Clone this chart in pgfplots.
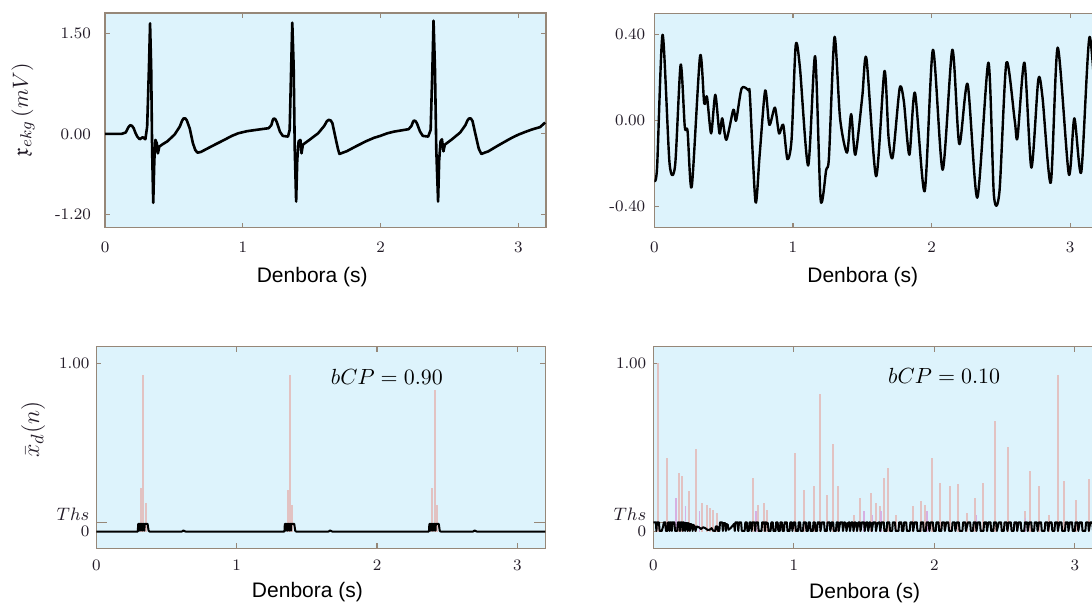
\documentclass[border=0pt]{standalone}
\usepackage{fontspec}
\usepackage{amssymb}
\usepackage{pgfplots}
\pgfplotsset{compat=1.18}
\newfontfamily\arialfont{Liberation Sans}

\definecolor{bgcol}{RGB}{221,243,252}
\definecolor{framecol}{RGB}{150,135,120}
\definecolor{tickcol}{RGB}{35,28,40}
\definecolor{pinkc}{RGB}{226,194,194}
\definecolor{lavc}{RGB}{214,176,226}

\pgfplotsset{
  ecg/.style={
    scale only axis,
    anchor=south west,
    axis background/.style={fill=bgcol},
    axis line style={draw=framecol, line width=0.8pt},
    tick style={draw=framecol, line width=0.6pt},
    major tick length=2.5pt,
    tick align=inside,
    xmin=0, xmax=3.2,
    xtick={0,1,2,3}, xticklabels={0,1,2,3},
    ticklabel style={font=\fontsize{8}{9}\selectfont, text=tickcol},
    xlabel={Denbora (s)},
    xlabel style={font=\arialfont\fontsize{10.5}{12}\selectfont, anchor=center},
    ylabel style={font=\fontsize{11}{12}\selectfont, anchor=center, text=tickcol},
    every axis plot/.append style={line join=round},
    clip=true,
  },
  thsaxis/.style={
    ymin=-0.1, ymax=1.1,
    ytick={0,1}, yticklabels={0,1.00},
    extra y ticks={0.053},
    extra y tick labels={$Ths$},
    extra y tick style={major tick length=5.5pt,
      yticklabel style={yshift=4pt, font=\fontsize{9.5}{10}\selectfont}},
  },
}

\begin{document}
\begin{tikzpicture}
\path[use as bounding box] (0pt,0pt) rectangle (546pt,302.5pt);

% top left: ECG
\begin{axis}[ecg, at={(52.5pt,188.65pt)}, width=220.5pt, height=107.2pt,
    ymin=-1.4, ymax=1.8,
    ytick={-1.2,0,1.5}, yticklabels={-1.20,0.00,1.50},
    yticklabel style={xshift=-3.5pt},
    xticklabel style={yshift=-3.5pt},
    xlabel style={at={(axis description cs:0.47,0)}, yshift=-24.6pt},
    ylabel={$\mathfrak{x}_{ekg}\,(mV)$},
    ylabel style={at={(axis description cs:-0.186,0.55)}},
  ]
  \addplot[black, line width=1.3pt] coordinates {
    (0,0) (0.12,0) (0.15,0.02) (0.17,0.1) (0.183,0.13) (0.196,0.12) (0.208,0.085) (0.222,0.01) (0.234,-0.04)
    (0.252,-0.08) (0.273,-0.05) (0.293,-0.08) (0.306,0.11) (0.319,1.0)
    (0.327,1.65) (0.335,1.0) (0.342,-0.24) (0.35,-1.03) (0.358,-0.39)
    (0.366,-0.09) (0.376,-0.14) (0.384,-0.29) (0.394,-0.19) (0.414,-0.16)
    (0.453,-0.11) (0.505,-0.01) (0.543,0.11) (0.558,0.19) (0.569,0.23) (0.584,0.23) (0.594,0.2)
    (0.615,0.08) (0.638,-0.14) (0.655,-0.24) (0.671,-0.28) (0.695,-0.27) (0.723,-0.24) (0.788,-0.17)
    (0.865,-0.09) (0.92,-0.03) (0.968,0.01) (1.03,0.04) (1.097,0.06) (1.187,0.085) (1.207,0.13)
    (1.218,0.21) (1.225,0.23) (1.236,0.22) (1.246,0.18) (1.269,0.035) (1.29,-0.03) (1.328,-0.04)
    (1.34,0.06) (1.351,1.0) (1.359,1.66) (1.369,1.0) (1.377,-0.24)
    (1.387,-1.01) (1.395,-0.39) (1.405,-0.11) (1.418,-0.09) (1.426,-0.29)
    (1.436,-0.16) (1.483,-0.09) (1.547,0.01) (1.591,0.12) (1.61,0.19) (1.624,0.21)
    (1.638,0.2) (1.65,0.16) (1.676,-0.09) (1.69,-0.22) (1.701,-0.30) (1.725,-0.28) (1.753,-0.26) (1.817,-0.19)
    (1.894,-0.11) (1.95,-0.06) (1.997,-0.03) (2.05,0.01) (2.1,0.035) (2.203,0.07) (2.224,0.12)
    (2.235,0.18) (2.242,0.2) (2.253,0.19) (2.263,0.16) (2.286,0.035) (2.306,-0.03) (2.345,-0.04)
    (2.363,0.06) (2.376,1.0) (2.384,1.69) (2.394,1.0) (2.404,-0.24)
    (2.417,-1.01) (2.425,-0.39) (2.435,-0.11) (2.445,-0.08) (2.456,-0.26)
    (2.466,-0.16) (2.512,-0.09) (2.577,0.02) (2.615,0.13) (2.63,0.2) (2.641,0.23)
    (2.655,0.23) (2.667,0.19) (2.692,-0.04) (2.712,-0.22) (2.731,-0.30) (2.755,-0.28) (2.782,-0.26) (2.847,-0.18)
    (2.924,-0.09) (2.96,-0.05) (3.001,-0.01) (3.05,0.03) (3.104,0.07) (3.156,0.1) (3.194,0.17)
  };
\end{axis}

% top right: noise
\begin{axis}[ecg, at={(327.15pt,188.65pt)}, width=221.8pt, height=107.2pt,
    ymin=-0.5, ymax=0.5,
    ytick={-0.4,0,0.4}, yticklabels={-0.40,0.00,0.40},
    yticklabel style={xshift=-1pt},
    xticklabel style={yshift=-3.5pt},
    xlabel style={at={(axis description cs:0.47,0)}, yshift=-24.6pt},
  ]
  \addplot[black, line width=1.2pt, smooth, tension=0.45] coordinates {
    (0,-0.28) (0.02,-0.22) (0.06,0.40) (0.11,-0.20) (0.15,-0.21)
    (0.19,0.26) (0.22,-0.03) (0.24,-0.05) (0.27,-0.31) (0.33,0.30)
    (0.36,0.08) (0.38,0.11) (0.41,-0.06) (0.44,0.12) (0.47,-0.06)
    (0.49,0.01) (0.52,-0.09) (0.57,0.05) (0.59,0.0) (0.63,0.15)
    (0.68,0.14) (0.69,0.11) (0.73,-0.38) (0.76,-0.16) (0.80,0.14)
    (0.83,-0.02) (0.87,0.06) (0.90,-0.06) (0.93,-0.02) (0.96,-0.18)
    (0.99,-0.09) (1.02,0.35) (1.05,0.25) (1.11,-0.21) (1.16,0.30)
    (1.20,-0.37) (1.24,-0.23) (1.26,-0.17) (1.30,0.39) (1.34,0.01)
    (1.39,-0.15) (1.42,0.03) (1.45,-0.16) (1.50,0.11) (1.53,0.29)
    (1.60,-0.26) (1.66,0.23) (1.69,-0.08) (1.72,-0.17) (1.77,0.15)
    (1.80,0.09) (1.84,-0.16) (1.88,0.13) (1.95,-0.33) (2.01,0.33)
    (2.08,-0.23) (2.15,0.33) (2.20,-0.11) (2.26,0.17) (2.33,-0.36)
    (2.41,0.27) (2.45,-0.35) (2.49,-0.33) (2.54,0.27) (2.60,0.0)
    (2.62,-0.08) (2.67,0.27) (2.72,-0.22) (2.77,0.19) (2.80,0.11)
    (2.86,-0.29) (2.91,0.34) (2.99,-0.25) (3.03,0.01) (3.08,-0.24)
    (3.14,0.39) (3.2,-0.1)
  };
\end{axis}

% bottom left: detector bCP = 0.90
\begin{axis}[ecg, thsaxis, at={(48.2pt,28.35pt)}, width=224.5pt, height=100.8pt,
    xticklabel style={yshift=-2pt},
    xlabel style={at={(axis description cs:0.47,0)}, yshift=-21.7pt},
    ylabel={$\bar{x}_d(n)$},
    ylabel style={at={(axis description cs:-0.141,0.59)}, font=\fontsize{12.5}{13}\selectfont},
  ]
  \addplot[ycomb, color=pinkc, line width=1pt] coordinates {
    (0.318,0.26) (0.335,0.93) (0.352,0.17)
    (1.363,0.25) (1.38,0.93) (1.397,0.16)
    (2.393,0.26) (2.41,0.84) (2.427,0.16)
  };
  \addplot[black, line width=1pt] coordinates {
    (0,0) (0.295,0) (0.298,0.045) (0.305,0.045) (0.307,0.005) (0.309,0.045)
    (0.316,0.045) (0.318,0.005) (0.32,0.045) (0.328,0.045) (0.33,0.005)
    (0.332,0.045) (0.34,0.045) (0.342,0.005) (0.344,0.045) (0.365,0.045)
    (0.372,0.005) (0.378,0) (0.61,0) (0.62,0.006) (0.635,0)
    (1.34,0) (1.343,0.045) (1.35,0.045) (1.352,0.005) (1.354,0.045)
    (1.361,0.045) (1.363,0.005) (1.365,0.045) (1.373,0.045) (1.375,0.005)
    (1.377,0.045) (1.385,0.045) (1.387,0.005) (1.389,0.045) (1.41,0.045)
    (1.417,0.005) (1.423,0) (1.655,0) (1.665,0.006) (1.68,0)
    (2.37,0) (2.373,0.045) (2.38,0.045) (2.382,0.005) (2.384,0.045)
    (2.391,0.045) (2.393,0.005) (2.395,0.045) (2.403,0.045) (2.405,0.005)
    (2.407,0.045) (2.415,0.045) (2.417,0.005) (2.419,0.045) (2.44,0.045)
    (2.447,0.005) (2.453,0) (2.685,0) (2.695,0.006) (2.71,0) (3.2,0)
  };
  \node[font=\fontsize{10.5}{12}\selectfont, text=black] at (axis cs:2.07,0.92) {$bCP = 0.90$};
\end{axis}

% bottom right: detector bCP = 0.10
\begin{axis}[ecg, thsaxis, at={(326.65pt,28.35pt)}, width=224.8pt, height=100.8pt,
    xticklabel style={yshift=-2pt},
    xlabel style={at={(axis description cs:0.47,0)}, yshift=-22.5pt},
  ]
  \addplot[ycomb, color=pinkc, line width=1pt] coordinates {
    (0.036,1.0) (0.097,0.44) (0.181,0.35) (0.205,0.33) (0.254,0.24)
    (0.307,0.49) (0.35,0.17) (0.38,0.16) (0.404,0.14) (0.428,0.13)
    (0.452,0.11) (0.713,0.32) (0.742,0.16) (0.786,0.17) (0.81,0.13)
    (1.008,0.47) (1.071,0.25) (1.143,0.27) (1.184,0.82) (1.233,0.22)
    (1.281,0.52) (1.317,0.27) (1.426,0.10) (1.474,0.20) (1.547,0.23)
    (1.588,0.17) (1.612,0.15) (1.644,0.32) (1.673,0.38) (1.728,0.10)
    (1.849,0.15) (1.902,0.18) (1.934,0.16) (1.987,0.44) (2.038,0.29)
    (2.11,0.27) (2.171,0.28) (2.236,0.11) (2.289,0.20) (2.345,0.29)
    (2.434,0.66) (2.521,0.50) (2.647,0.12) (2.683,0.36) (2.744,0.27)
    (2.816,0.10) (2.879,0.93) (2.925,0.30) (3.009,0.19) (3.101,0.31)
  };
  \addplot[ycomb, color=lavc, line width=0.8pt] coordinates {
    (0.16,0.2) (0.23,0.15) (0.33,0.12) (0.73,0.12) (1.5,0.12)
    (1.56,0.1) (1.62,0.12) (1.95,0.12) (2.3,0.1) (2.65,0.08)
  };
  \addplot[black, line width=1pt] coordinates {
    (0,0.055) (0.018,0.055) (0.022,0.003) (0.026,0.055) (0.04,0.055) (0.045,0.003)
    (0.06,0.003) (0.07,0.03) (0.075,0.055) (0.085,0.055) (0.09,0.003) (0.1,0.003)
    (0.105,0.055) (0.112,0.055) (0.116,0.003) (0.12,0.055) (0.128,0.055) (0.132,0.003)
    (0.136,0.055) (0.15,0.055) (0.155,0.003) (0.17,0.003) (0.175,0.055) (0.185,0.055)
    (0.19,0.003) (0.195,0.055) (0.205,0.055) (0.21,0.003) (0.214,0.055) (0.222,0.05)
    (0.226,0.003) (0.23,0.05) (0.24,0.05) (0.244,0.003) (0.248,0.05) (0.256,0.045)
    (0.26,0.003) (0.265,0.045) (0.275,0.04) (0.28,0.003) (0.285,0.04) (0.295,0.03)
    (0.3,0.003) (0.31,0.03) (0.325,0.025) (0.34,0.015) (0.355,0.025) (0.37,0.02)
    (0.385,0.01) (0.40,0.01) (0.415,0.02) (0.425,0.005) (0.44,0.003) (0.445,0.03)
    (0.455,0.03) (0.46,0.003) (0.47,0.003) (0.475,0.055) (0.49,0.055) (0.495,0.003)
    (0.5,0.05) (0.512,0.05) (0.516,0.003) (0.52,0.045) (0.53,0.04) (0.535,0.01)
    (0.55,0.02) (0.565,0.035) (0.575,0.045) (0.58,0.003) (0.585,0.055) (0.6,0.055)
    (0.605,0.003) (0.61,0.055) (0.625,0.055) (0.63,0.003) (0.65,0.003) (0.655,0.055)
    (0.665,0.055) (0.67,0.003) (0.68,0.003) (0.685,0.055) (0.695,0.055) (0.7,0.003)
    (0.705,0.055) (0.72,0.055) (0.725,0.003) (0.73,0.055) (0.745,0.055) (0.75,0.003)
    (0.77,0.003) (0.775,0.055) (0.79,0.055) (0.795,0.003) (0.8,0.055) (0.815,0.05)
    (0.82,0.003) (0.835,0.003) (0.84,0.055) (0.85,0.055) (0.855,0.003) (0.87,0.003)
    (0.875,0.055) (0.885,0.055) (0.89,0.003) (0.9,0.003) (0.905,0.055) (0.915,0.055)
    (0.92,0.003) (0.93,0.003) (0.935,0.055) (0.95,0.055) (0.955,0.003) (0.97,0.003)
    (0.975,0.055) (0.985,0.055) (0.99,0.003) (1.0,0.055) (1.01,0.055) (1.015,0.003)
    (1.03,0.003) (1.035,0.055) (1.045,0.055) (1.05,0.003) (1.065,0.003) (1.07,0.055)
    (1.085,0.055) (1.09,0.003) (1.1,0.003) (1.105,0.055) (1.115,0.055) (1.12,0.003)
    (1.135,0.003) (1.14,0.055) (1.15,0.055) (1.155,0.003) (1.165,0.003) (1.17,0.055)
    (1.185,0.055) (1.19,0.003) (1.2,0.055) (1.215,0.055) (1.22,0.003) (1.235,0.003)
    (1.24,0.055) (1.255,0.055) (1.26,0.003) (1.27,0.055) (1.28,0.055) (1.285,0.003)
    (1.3,0.003) (1.305,0.055) (1.315,0.055) (1.32,0.003) (1.33,0.055) (1.345,0.055)
    (1.35,0.003) (1.36,0.055) (1.37,0.05) (1.375,0.003) (1.385,0.05) (1.395,0.055)
    (1.4,0.003) (1.41,0.055) (1.42,0.055) (1.425,0.003) (1.435,0.055) (1.445,0.05)
    (1.45,0.003) (1.46,0.055) (1.47,0.055) (1.475,0.003) (1.485,0.055) (1.5,0.055)
    (1.505,0.003) (1.515,0.055) (1.525,0.055) (1.53,0.003) (1.54,0.055) (1.55,0.05)
    (1.555,0.003) (1.565,0.055) (1.58,0.055) (1.585,0.003) (1.595,0.05) (1.61,0.055)
    (1.615,0.003) (1.625,0.055) (1.64,0.055) (1.645,0.003) (1.66,0.003) (1.665,0.055)
    (1.68,0.055) (1.685,0.003) (1.7,0.003) (1.705,0.055) (1.72,0.055) (1.725,0.003)
    (1.745,0.003) (1.75,0.055) (1.765,0.055) (1.77,0.003) (1.78,0.003) (1.785,0.055)
    (1.8,0.055) (1.805,0.003) (1.825,0.003) (1.83,0.055) (1.845,0.055) (1.85,0.003)
    (1.86,0.055) (1.875,0.055) (1.88,0.003) (1.9,0.003) (1.905,0.055) (1.92,0.055)
    (1.925,0.003) (1.94,0.003) (1.945,0.055) (1.96,0.055) (1.965,0.003) (1.975,0.055)
    (1.99,0.055) (1.995,0.003) (2.01,0.003) (2.015,0.055) (2.03,0.055) (2.035,0.003)
    (2.05,0.003) (2.055,0.055) (2.07,0.055) (2.075,0.003) (2.085,0.055) (2.1,0.055)
    (2.105,0.003) (2.125,0.003) (2.13,0.055) (2.145,0.055) (2.15,0.003) (2.16,0.055)
    (2.175,0.055) (2.18,0.003) (2.2,0.003) (2.205,0.055) (2.22,0.055) (2.225,0.003)
    (2.24,0.055) (2.255,0.055) (2.26,0.003) (2.275,0.003) (2.28,0.055) (2.295,0.055)
    (2.3,0.003) (2.31,0.055) (2.325,0.055) (2.33,0.003) (2.35,0.003) (2.355,0.055)
    (2.37,0.055) (2.375,0.003) (2.385,0.055) (2.4,0.055) (2.405,0.003) (2.42,0.003)
    (2.425,0.055) (2.44,0.055) (2.445,0.003) (2.46,0.055) (2.475,0.055) (2.48,0.003)
    (2.495,0.003) (2.5,0.055) (2.515,0.055) (2.52,0.003) (2.53,0.055) (2.545,0.055)
    (2.55,0.003) (2.565,0.003) (2.57,0.055) (2.585,0.055) (2.59,0.003) (2.6,0.055)
    (2.615,0.055) (2.62,0.003) (2.64,0.003) (2.645,0.055) (2.66,0.055) (2.665,0.003)
    (2.675,0.055) (2.69,0.055) (2.695,0.003) (2.71,0.003) (2.715,0.055) (2.73,0.055)
    (2.735,0.003) (2.745,0.055) (2.76,0.055) (2.765,0.003) (2.785,0.003) (2.79,0.055)
    (2.805,0.055) (2.81,0.003) (2.82,0.055) (2.835,0.055) (2.84,0.003) (2.855,0.003)
    (2.86,0.055) (2.875,0.055) (2.88,0.003) (2.89,0.055) (2.905,0.055) (2.91,0.003)
    (2.93,0.003) (2.935,0.055) (2.95,0.055) (2.955,0.003) (2.965,0.055) (2.98,0.055)
    (2.985,0.003) (3.0,0.003) (3.005,0.055) (3.02,0.055) (3.025,0.003) (3.035,0.055)
    (3.05,0.055) (3.055,0.003) (3.075,0.003) (3.08,0.055) (3.095,0.055) (3.1,0.003)
    (3.11,0.055) (3.125,0.055) (3.13,0.003) (3.145,0.003) (3.15,0.055) (3.165,0.055)
    (3.17,0.003) (3.18,0.055) (3.2,0.055)
  };
  \node[font=\fontsize{10.5}{12}\selectfont, text=black] at (axis cs:2.07,0.925) {$bCP = 0.10$};
\end{axis}
\end{tikzpicture}
\end{document}
